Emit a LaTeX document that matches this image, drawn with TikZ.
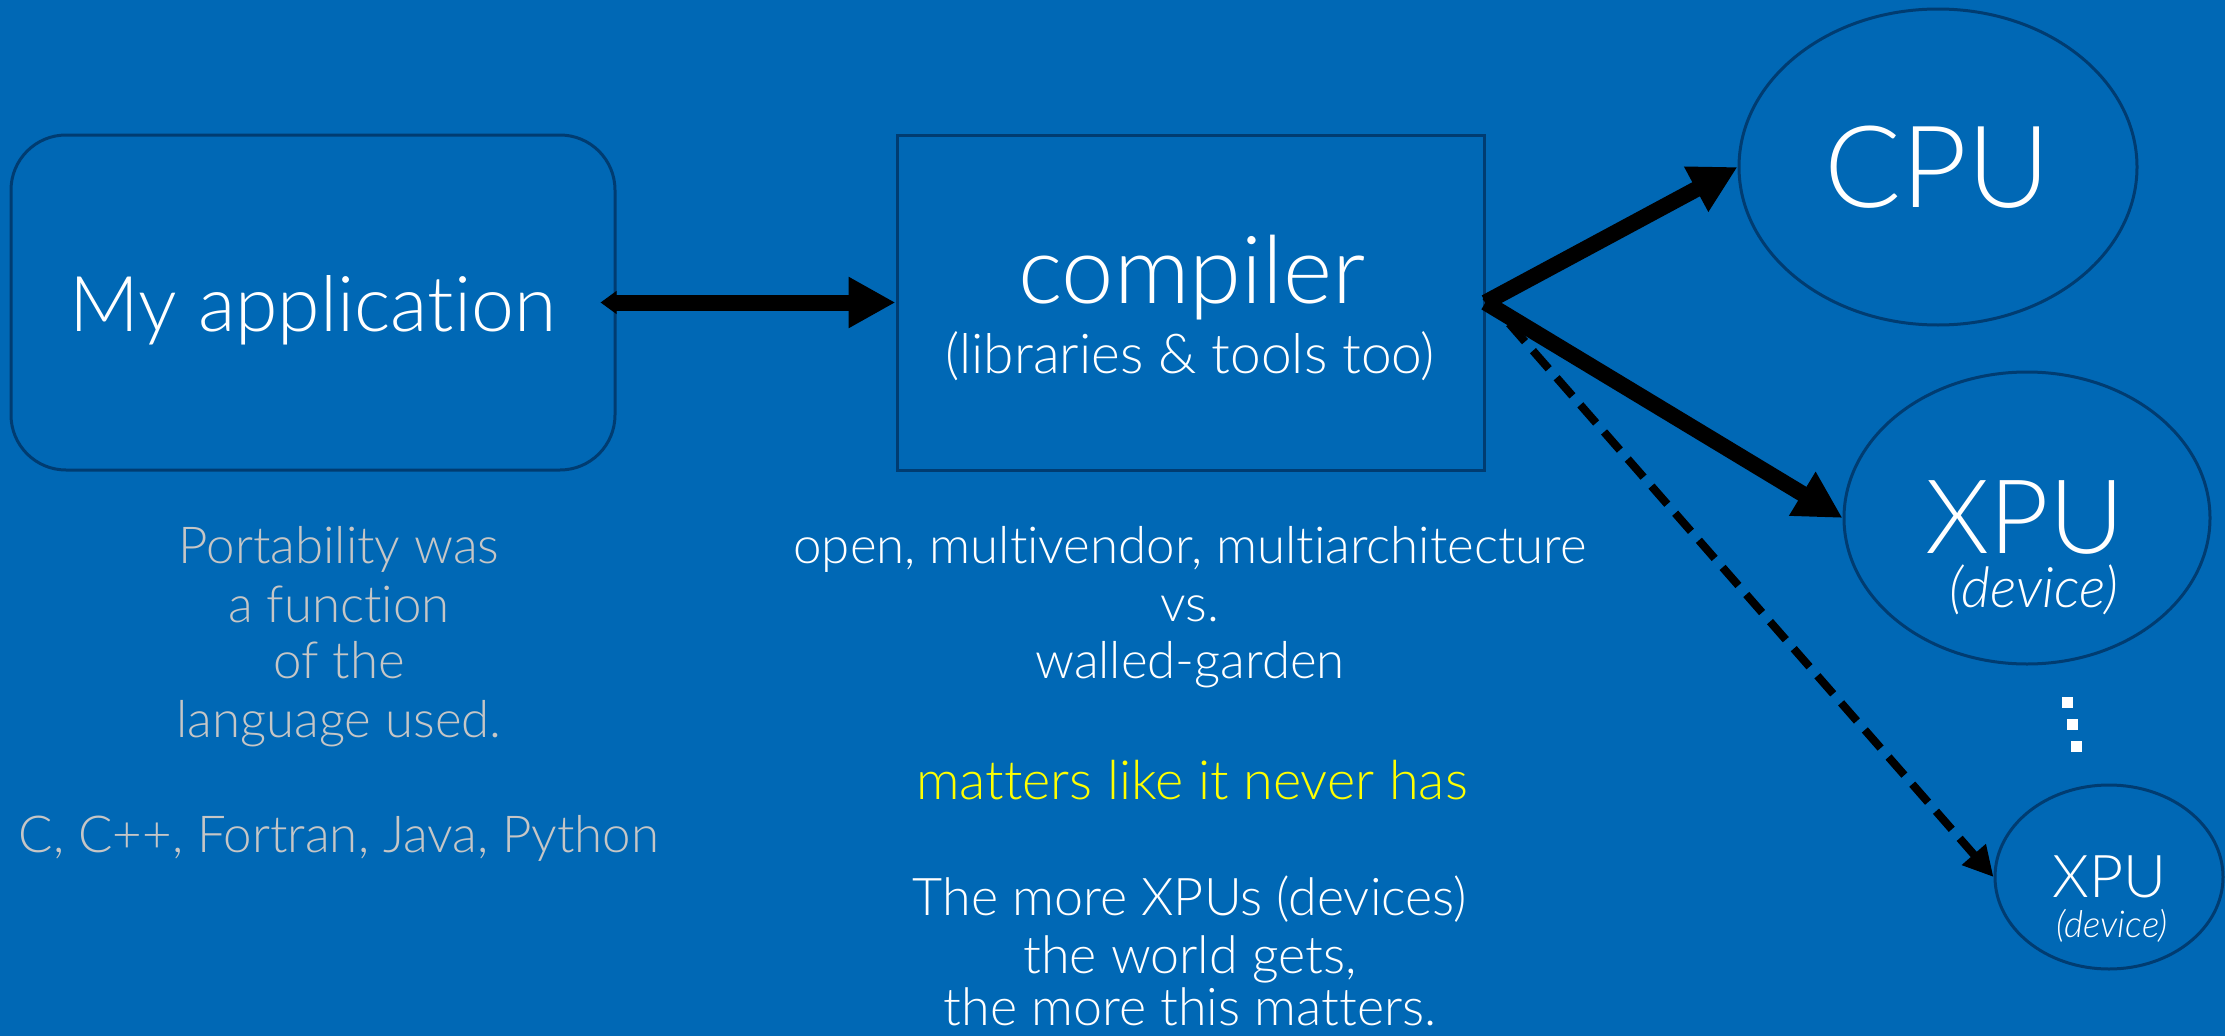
\documentclass[tikz,border=0pt]{standalone}
\usepackage{fontspec}
\setmainfont{Lato Light}[ItalicFont={Lato Light Italic},Ligatures={NoCommon}]
\usetikzlibrary{arrows.meta,shapes.geometric}
\definecolor{bg}{HTML}{0068B5}
\definecolor{edgec}{HTML}{003C71}
\definecolor{greytxt}{HTML}{C6C6C6}
\definecolor{yel}{HTML}{FFFF00}
\newcommand{\fs}[1]{\fontsize{#1}{#1}\selectfont}
\begin{document}
\begin{tikzpicture}[x=1pt,y=-1pt,
  boxst/.style={draw=edgec, line width=3pt, fill=bg, inner sep=0pt},
  ell/.style={ellipse, draw=edgec, line width=3pt, fill=bg, inner sep=0pt},
  txt/.style={text=white, anchor=base, inner sep=0pt},
  gtxt/.style={text=greytxt, anchor=base, inner sep=0pt, font=\fs{51}},
  wtxt/.style={text=white, anchor=base, inner sep=0pt, font=\fs{51}},
  bigarrow/.style={-{Triangle[length=47pt,width=48pt]}, line width=16pt, black},
  dasharrow/.style={-{Triangle[length=30pt,width=30pt]}, line width=8pt, black, dash pattern=on 24pt off 12pt}
]
\fill[bg] (0,0) rectangle (2225,1036);
\useasboundingbox (0,0) rectangle (2225,1036);

% boxes
\node[boxst, rounded corners=55pt, minimum width=604pt, minimum height=335pt] (app) at (313,302.5) {};
\node[boxst, minimum width=587pt, minimum height=335pt] (comp) at (1190.5,302.5) {};

% ellipses
\node[ell, minimum width=398pt, minimum height=316pt] (cpu) at (1938,167) {};
\node[ell, minimum width=366pt, minimum height=292pt] (xpu) at (2027,518) {};
\node[ell, minimum width=228pt, minimum height=184pt] (sxpu) at (2109,877) {};

% texts in shapes
\node[txt, font=\fs{77}] (apptxt) at (313,331) {My application};
\node[txt, font=\fs{94}] (comptxt) at (1192,303) {compiler};
\node[txt, font=\fs{55}] (libtxt) at (1190,373) {(libraries \& tools too)};
\node[txt, font=\fs{114}] (cputxt) at (1937.5,207) {CPU};
\node[txt, font=\fs{103}, text depth=0pt] (xputxt) at (2025,553) {XPU};
\node[txt, font=\fs{56}\itshape] (devtxt) at (2033.5,607) {(device)};
\node[txt, font=\fs{59}, text depth=0pt] (sxputxt) at (2109.5,897) {XPU};
\node[txt, font=\fs{37}\itshape] (sdevtxt) at (2112,937) {(device)};

% dots
\fill[white] (2062,697) rectangle (2073,708);
\fill[white] (2067,719) rectangle (2078,730);
\fill[white] (2071,741) rectangle (2082,752);

% left text
\node[gtxt] (l1) at (339,563) {Portability was};
\node[gtxt] (l2) at (339,622) {a function};
\node[gtxt] (l3) at (339,678) {of the};
\node[gtxt] (l4) at (339,737) {language used.};
\node[gtxt] (l5) at (339,852) {C, C++, Fortran, Java, Python};

% middle text
\node[wtxt] (m1) at (1190,563) {open, multivendor, multiarchitecture};
\node[wtxt] (m2) at (1190,621) {vs.};
\node[wtxt] (m3) at (1190,678) {walled-garden};
\node[wtxt, text=yel, font=\fs{54}] (m4) at (1192,799) {matters like it never has};
\node[wtxt, font=\fs{52}] (m5) at (1190,915) {The more XPUs (devices)};
\node[wtxt, font=\fs{52}] (m6) at (1190,973) {the world gets,};
\node[wtxt, font=\fs{52}] (m7) at (1190,1025) {the more this matters.};

% connectors
\coordinate (appin) at ([xshift=-16pt]app.east);
\draw[bigarrow, {Triangle[length=16pt,width=22pt]}-{Triangle[length=47pt,width=48pt]}] (appin) -- (comp.west);
\draw[bigarrow] (comp.east) -- (cpu.west);
\draw[bigarrow] (comp.east) -- (xpu.west);
\draw[dasharrow] ([yshift=6pt]comp.east) -- (sxpu.west);
\end{tikzpicture}
\end{document}
